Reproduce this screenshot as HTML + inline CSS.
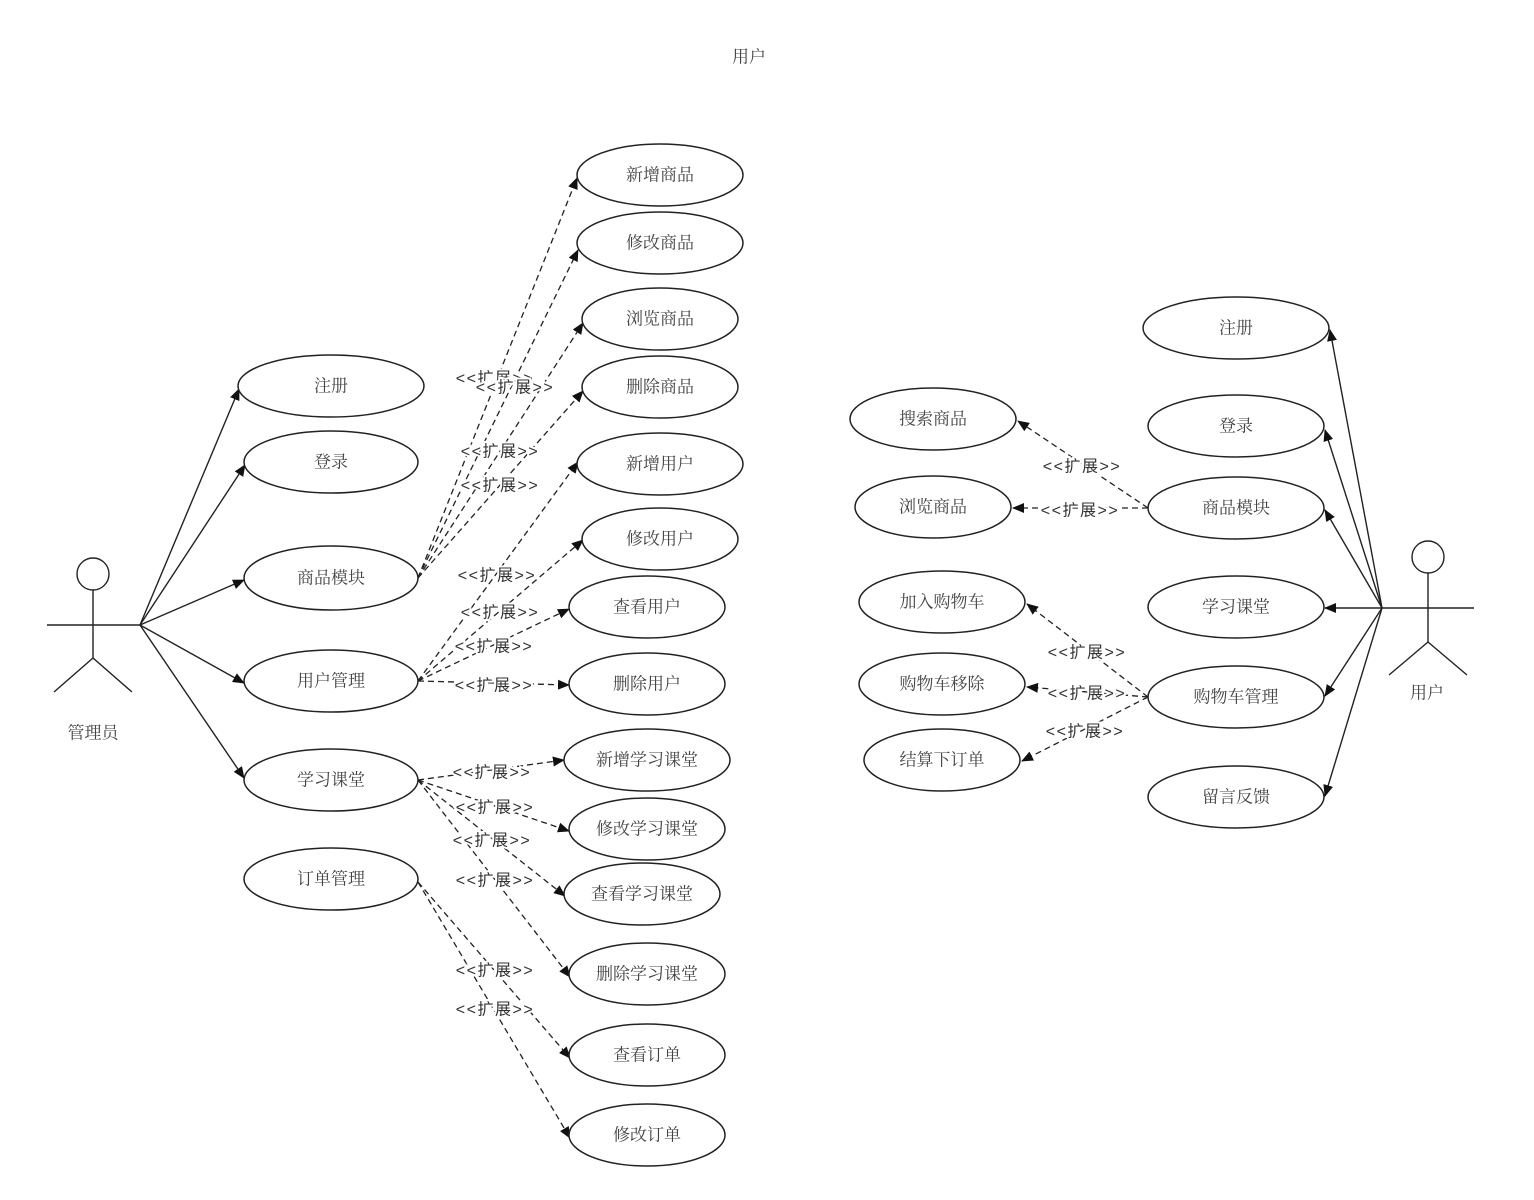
<!DOCTYPE html>
<html><head><meta charset="utf-8"><style>
html,body{margin:0;padding:0;background:#fff;}
svg{display:block;}
.t{font-family:"Liberation Serif","Noto Serif CJK SC",serif;font-size:17px;fill:#444;text-anchor:middle;dominant-baseline:central;}
.e{fill:#fff;stroke:#222;stroke-width:1.5;}
.s{stroke:#222;stroke-width:1.4;fill:none;}
.d{stroke:#222;stroke-width:1.3;fill:none;stroke-dasharray:6,4;}
.l{font-family:"Liberation Sans","Noto Sans CJK SC",sans-serif;font-size:16px;letter-spacing:1.5px;fill:#333;text-anchor:middle;dominant-baseline:central;paint-order:stroke;stroke:#fff;stroke-width:4px;}
</style></head><body>
<svg width="1534" height="1200" viewBox="0 0 1534 1200" xmlns="http://www.w3.org/2000/svg">
<defs><marker id="a" markerWidth="12" markerHeight="10" refX="11" refY="5" orient="auto" markerUnits="userSpaceOnUse"><path d="M0,0 L12,5 L0,10 Z" fill="#111"/></marker></defs>
<text class="t" x="749" y="57">用户</text>

<circle cx="93" cy="574" r="16" class="s"/>
<line x1="93" y1="590" x2="93" y2="658" class="s"/>
<line x1="47" y1="625" x2="140" y2="625" class="s"/>
<line x1="93" y1="658" x2="54" y2="692" class="s"/>
<line x1="93" y1="658" x2="132" y2="692" class="s"/>
<text class="t" x="93" y="733">管理员</text>

<g marker-end="url(#a)">
<line x1="140" y1="625" x2="239" y2="389" class="s"/>
<line x1="140" y1="625" x2="245" y2="465" class="s"/>
<line x1="140" y1="625" x2="244" y2="580" class="s"/>
<line x1="140" y1="625" x2="244" y2="683" class="s"/>
<line x1="140" y1="625" x2="244" y2="778" class="s"/>
</g>

<g marker-end="url(#a)">
<line x1="418" y1="578" x2="577" y2="178" class="d"/>
<line x1="418" y1="578" x2="578" y2="250" class="d"/>
<line x1="418" y1="578" x2="583" y2="323" class="d"/>
<line x1="418" y1="578" x2="583" y2="391" class="d"/>
<line x1="418" y1="681" x2="578" y2="462" class="d"/>
<line x1="418" y1="681" x2="583" y2="540" class="d"/>
<line x1="418" y1="681" x2="569" y2="609" class="d"/>
<line x1="418" y1="681" x2="569" y2="685" class="d"/>
<line x1="418" y1="780" x2="564" y2="760" class="d"/>
<line x1="418" y1="780" x2="569" y2="831" class="d"/>
<line x1="418" y1="780" x2="565" y2="896" class="d"/>
<line x1="418" y1="780" x2="570" y2="977" class="d"/>
<line x1="418" y1="882" x2="570" y2="1058" class="d"/>
<line x1="418" y1="882" x2="570" y2="1138" class="d"/>
</g>
<text class="l" x="495" y="379">&lt;&lt;扩展&gt;&gt;</text>
<text class="l" x="515" y="388">&lt;&lt;扩展&gt;&gt;</text>
<text class="l" x="500" y="452">&lt;&lt;扩展&gt;&gt;</text>
<text class="l" x="500" y="486">&lt;&lt;扩展&gt;&gt;</text>
<text class="l" x="497" y="576">&lt;&lt;扩展&gt;&gt;</text>
<text class="l" x="500" y="613">&lt;&lt;扩展&gt;&gt;</text>
<text class="l" x="494" y="647">&lt;&lt;扩展&gt;&gt;</text>
<text class="l" x="494" y="686">&lt;&lt;扩展&gt;&gt;</text>
<text class="l" x="492" y="773">&lt;&lt;扩展&gt;&gt;</text>
<text class="l" x="495" y="808">&lt;&lt;扩展&gt;&gt;</text>
<text class="l" x="492" y="841">&lt;&lt;扩展&gt;&gt;</text>
<text class="l" x="495" y="881">&lt;&lt;扩展&gt;&gt;</text>
<text class="l" x="495" y="971">&lt;&lt;扩展&gt;&gt;</text>
<text class="l" x="495" y="1010">&lt;&lt;扩展&gt;&gt;</text>

<ellipse class="e" cx="331" cy="386" rx="93" ry="31"/><text class="t" x="331" y="386">注册</text>
<ellipse class="e" cx="331" cy="462" rx="87" ry="31"/><text class="t" x="331" y="462">登录</text>
<ellipse class="e" cx="331" cy="578" rx="87" ry="32"/><text class="t" x="331" y="578">商品模块</text>
<ellipse class="e" cx="331" cy="681" rx="87" ry="31"/><text class="t" x="331" y="681">用户管理</text>
<ellipse class="e" cx="331" cy="780" rx="87" ry="31"/><text class="t" x="331" y="780">学习课堂</text>
<ellipse class="e" cx="331" cy="879" rx="87" ry="31"/><text class="t" x="331" y="879">订单管理</text>

<ellipse class="e" cx="660" cy="175" rx="83" ry="31"/><text class="t" x="660" y="175">新增商品</text>
<ellipse class="e" cx="660" cy="243" rx="83" ry="31"/><text class="t" x="660" y="243">修改商品</text>
<ellipse class="e" cx="660" cy="319" rx="78" ry="31"/><text class="t" x="660" y="319">浏览商品</text>
<ellipse class="e" cx="660" cy="387" rx="78" ry="31"/><text class="t" x="660" y="387">删除商品</text>
<ellipse class="e" cx="660" cy="464" rx="83" ry="31"/><text class="t" x="660" y="464">新增用户</text>
<ellipse class="e" cx="660" cy="539" rx="78" ry="31"/><text class="t" x="660" y="539">修改用户</text>
<ellipse class="e" cx="647" cy="607" rx="78" ry="31"/><text class="t" x="647" y="607">查看用户</text>
<ellipse class="e" cx="647" cy="684" rx="78" ry="31"/><text class="t" x="647" y="684">删除用户</text>
<ellipse class="e" cx="647" cy="760" rx="83" ry="31"/><text class="t" x="647" y="760">新增学习课堂</text>
<ellipse class="e" cx="647" cy="829" rx="78" ry="31"/><text class="t" x="647" y="829">修改学习课堂</text>
<ellipse class="e" cx="642" cy="894" rx="78" ry="31"/><text class="t" x="642" y="894">查看学习课堂</text>
<ellipse class="e" cx="647" cy="974" rx="78" ry="31"/><text class="t" x="647" y="974">删除学习课堂</text>
<ellipse class="e" cx="647" cy="1055" rx="78" ry="31"/><text class="t" x="647" y="1055">查看订单</text>
<ellipse class="e" cx="647" cy="1135" rx="78" ry="31"/><text class="t" x="647" y="1135">修改订单</text>

<circle cx="1428" cy="557" r="16" class="s"/>
<line x1="1428" y1="573" x2="1428" y2="642" class="s"/>
<line x1="1382" y1="608" x2="1474" y2="608" class="s"/>
<line x1="1428" y1="642" x2="1389" y2="675" class="s"/>
<line x1="1428" y1="642" x2="1467" y2="675" class="s"/>
<text class="t" x="1427" y="693">用户</text>

<g marker-end="url(#a)">
<line x1="1382" y1="608" x2="1330" y2="330" class="s"/>
<line x1="1382" y1="608" x2="1325" y2="430" class="s"/>
<line x1="1382" y1="608" x2="1325" y2="510" class="s"/>
<line x1="1382" y1="608" x2="1325" y2="608" class="s"/>
<line x1="1382" y1="608" x2="1325" y2="696" class="s"/>
<line x1="1382" y1="608" x2="1325" y2="796" class="s"/>
</g>

<g marker-end="url(#a)">
<line x1="1148" y1="508" x2="1018" y2="421" class="d"/>
<line x1="1148" y1="508" x2="1013" y2="508" class="d"/>
<line x1="1148" y1="697" x2="1027" y2="604" class="d"/>
<line x1="1148" y1="697" x2="1027" y2="687" class="d"/>
<line x1="1148" y1="697" x2="1022" y2="761" class="d"/>
</g>
<text class="l" x="1082" y="467">&lt;&lt;扩展&gt;&gt;</text>
<text class="l" x="1080" y="511">&lt;&lt;扩展&gt;&gt;</text>
<text class="l" x="1087" y="653">&lt;&lt;扩展&gt;&gt;</text>
<text class="l" x="1087" y="694">&lt;&lt;扩展&gt;&gt;</text>
<text class="l" x="1085" y="732">&lt;&lt;扩展&gt;&gt;</text>

<ellipse class="e" cx="1236" cy="328" rx="93" ry="31"/><text class="t" x="1236" y="328">注册</text>
<ellipse class="e" cx="1236" cy="426" rx="88" ry="31"/><text class="t" x="1236" y="426">登录</text>
<ellipse class="e" cx="1236" cy="508" rx="88" ry="31"/><text class="t" x="1236" y="508">商品模块</text>
<ellipse class="e" cx="1236" cy="607" rx="88" ry="31"/><text class="t" x="1236" y="607">学习课堂</text>
<ellipse class="e" cx="1236" cy="697" rx="88" ry="31"/><text class="t" x="1236" y="697">购物车管理</text>
<ellipse class="e" cx="1236" cy="797" rx="88" ry="31"/><text class="t" x="1236" y="797">留言反馈</text>
<ellipse class="e" cx="933" cy="419" rx="83" ry="31"/><text class="t" x="933" y="419">搜索商品</text>
<ellipse class="e" cx="933" cy="507" rx="78" ry="31"/><text class="t" x="933" y="507">浏览商品</text>
<ellipse class="e" cx="942" cy="602" rx="83" ry="31"/><text class="t" x="942" y="602">加入购物车</text>
<ellipse class="e" cx="942" cy="684" rx="83" ry="31"/><text class="t" x="942" y="684">购物车移除</text>
<ellipse class="e" cx="942" cy="760" rx="78" ry="31"/><text class="t" x="942" y="760">结算下订单</text>
</svg>
</body></html>
